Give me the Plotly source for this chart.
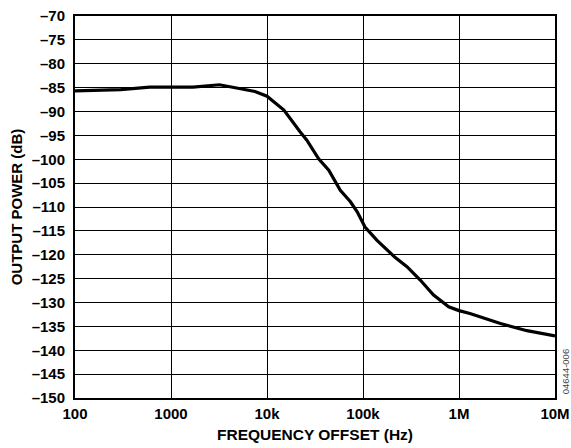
import plotly.graph_objects as go

freq_hz = [100, 300, 600, 1700, 3200, 7500, 10000, 15000, 22000, 26000, 34500, 44000,
           58000, 74000, 87000, 105000, 140000, 217000, 287000, 395000, 540000, 780000,
           1000000, 1300000, 2700000, 5100000, 10000000]
power_db = [-85.7, -85.4, -84.9, -84.9, -84.4, -85.8, -86.8, -89.7, -94.2, -96.0, -99.9, -102.3,
            -106.5, -108.9, -111.0, -114.2, -117.0, -120.6, -122.5, -125.3, -128.4, -130.9,
            -131.7, -132.3, -134.4, -135.9, -137.0]

x_tick_vals = [100, 1000, 10000, 100000, 1000000, 10000000]
x_tick_text = ["100", "1000", "10k", "100k", "1M", "10M"]
y_tick_vals = list(range(-150, -65, 5))
y_tick_text = ["\u2013" + str(abs(v)) for v in y_tick_vals]

FONT = "Liberation Sans, Arial, sans-serif"

fig = go.Figure()
fig.add_trace(go.Scatter(x=freq_hz, y=power_db, mode="lines",
                         line=dict(color="black", width=3.2), showlegend=False,
                         hoverinfo="skip"))

fig.update_layout(
    width=571, height=448,
    margin=dict(l=75, r=16, t=16, b=50, autoexpand=False),
    paper_bgcolor="white", plot_bgcolor="white",
    font=dict(family=FONT, color="black", size=15),
)
fig.update_xaxes(
    type="log", range=[2, 7], automargin=False,
    tickvals=x_tick_vals, ticktext=["<b>" + t + "</b>" for t in x_tick_text],
    tickfont=dict(family=FONT, size=15),
    showgrid=True, gridcolor="black", gridwidth=1,
    showline=True, linecolor="black", linewidth=2, mirror=True,
    ticks="", ticklen=0, ticklabelstandoff=1,
    title=dict(text="<b>FREQUENCY OFFSET (Hz)</b>", font=dict(family=FONT, size=15.5), standoff=8),
    zeroline=False,
)
fig.update_yaxes(
    range=[-150, -70], automargin=False,
    tickvals=y_tick_vals, ticktext=["<b>" + t + "</b>" for t in y_tick_text],
    tickfont=dict(family=FONT, size=15),
    showgrid=True, gridcolor="black", gridwidth=1,
    showline=True, linecolor="black", linewidth=2, mirror=True,
    ticks="", ticklen=0, ticklabelstandoff=5,
    title=dict(text="<b>OUTPUT POWER (dB)</b>", font=dict(family=FONT, size=15), standoff=5),
    zeroline=False,
)
fig.add_annotation(text="04644-006", xref="paper", yref="paper", x=1.0208, y=0.07,
                   xanchor="center", yanchor="middle", textangle=-90, showarrow=False,
                   borderpad=0,
                   font=dict(family=FONT, size=9.5, color="#444444"))

fig.write_html("out.html", config={"displayModeBar": False},
               post_script="document.body.style.margin='0';document.body.style.overflow='hidden';")
